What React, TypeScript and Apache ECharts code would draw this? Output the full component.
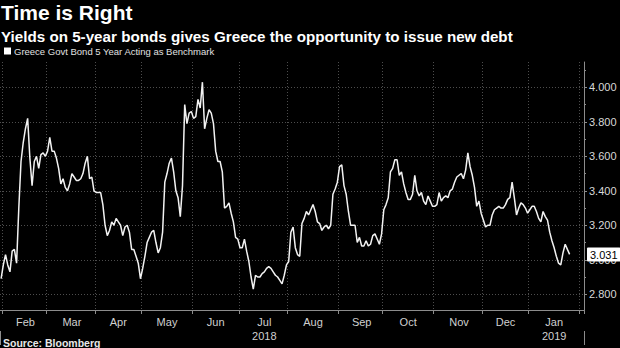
import React, { useEffect, useRef } from "react";
import * as echarts from "echarts";

const titleText = "Time is Right";
const subtitleText = "Yields on 5-year bonds gives Greece the opportunity to issue new debt";
const seriesName = "Greece Govt Bond 5 Year Acting as Benchmark";
const sourceText = "Source: Bloomberg";

// trading days (weekdays) on the axis
const axisStart = "2018-01-31";
const axisEnd = "2019-02-04";

// daily yields (%), one per weekday from axisStart
const yieldsFebApr = [
  2.89, 2.97, 3.03, 2.97, 2.93, 3.05, 3.06, 2.98, 3.30, 3.57, 3.68, 3.76, 3.82, 3.59, 3.43,
  3.57, 3.60, 3.53, 3.61, 3.62, 3.60, 3.63, 3.71, 3.63, 3.63, 3.59, 3.53, 3.44, 3.47, 3.42,
  3.40, 3.44, 3.50, 3.48, 3.46, 3.46, 3.47, 3.50, 3.56, 3.60, 3.47, 3.48, 3.40, 3.39, 3.39,
];
const yieldsAprMay = [
  3.39, 3.32, 3.20, 3.14, 3.17, 3.22, 3.20, 3.24, 3.22, 3.20, 3.14, 3.19, 3.20, 3.16, 3.06,
  3.06, 3.02, 2.98, 2.89, 2.95, 3.02, 3.10, 3.13, 3.16, 3.17, 3.10, 3.04, 3.07, 3.16, 3.45,
  3.50, 3.56, 3.59, 3.51, 3.40, 3.36, 3.25, 3.43, 3.90, 3.79, 3.85, 3.86, 3.82,
];
const yieldsJunJul = [
  3.83, 3.93, 3.88, 4.03, 3.76, 3.82, 3.87, 3.85, 3.79, 3.63, 3.57, 3.57, 3.51, 3.30, 3.31,
  3.33, 3.27, 3.22, 3.13, 3.12, 3.07, 3.07, 3.12, 3.05, 2.99, 2.90, 2.83, 2.91, 2.90, 2.90,
  2.92, 2.93, 2.95, 2.96, 2.95, 2.93, 2.91, 2.90, 2.88, 2.86, 2.91, 2.97, 2.99,
];
const yieldsAugSep = [
  3.16, 3.19, 3.07, 3.03, 3.02, 3.21, 3.24, 3.28, 3.26, 3.29, 3.32, 3.28, 3.22, 3.21, 3.17,
  3.19, 3.20, 3.18, 3.20, 3.38, 3.41, 3.45, 3.54, 3.55, 3.43, 3.38, 3.28, 3.20, 3.20, 3.20,
  3.10, 3.13, 3.08, 3.08, 3.11, 3.08, 3.09, 3.14, 3.15, 3.12, 3.09, 3.15, 3.29,
];
const yieldsOctNov = [
  3.32, 3.36, 3.51, 3.53, 3.58, 3.58, 3.49, 3.51, 3.44, 3.39, 3.35, 3.35, 3.38, 3.49, 3.40,
  3.37, 3.39, 3.34, 3.32, 3.37, 3.34, 3.31, 3.31, 3.32, 3.39, 3.34, 3.36, 3.37, 3.36, 3.40,
  3.41, 3.45, 3.48, 3.49, 3.50, 3.47, 3.52, 3.62, 3.54, 3.49, 3.42, 3.31, 3.34,
];
const yieldsDecJan = [
  3.27, 3.23, 3.19, 3.20, 3.20, 3.26, 3.29, 3.30, 3.31, 3.30, 3.30, 3.32, 3.35, 3.36, 3.45,
  3.36, 3.26, 3.30, 3.33, 3.32, 3.30, 3.27, 3.29, 3.31, 3.31, 3.28, 3.24, 3.22, 3.28, 3.25,
  3.23, 3.16, 3.11, 3.07, 3.02, 2.98, 2.97, 3.04, 3.09, 3.06, 3.031,
];
const yields = [
  ...yieldsFebApr, ...yieldsAprMay, ...yieldsJunJul,
  ...yieldsAugSep, ...yieldsOctNov, ...yieldsDecJan,
];

const monthNames = ["Jan", "Feb", "Mar", "Apr", "May", "Jun", "Jul", "Aug", "Sep", "Oct", "Nov", "Dec"];
const yearUnderMonth: Record<string, string> = { "2018-07": "2018", "2019-01": "2019" };
const yTicks = [2.8, 3.0, 3.2, 3.4, 3.6, 3.8, 4.0];
const yMinorTicks = [2.9, 3.1, 3.3, 3.5, 3.7, 3.9, 4.1];
const yMin = 2.7086;
const yMax = 4.147;

const FONT = "'Liberation Sans', Arial, sans-serif";

function weekdays(from: string, to: string): string[] {
  const out: string[] = [];
  const d = new Date(from + "T00:00:00Z");
  const end = new Date(to + "T00:00:00Z");
  while (d <= end) {
    const wd = d.getUTCDay();
    if (wd !== 0 && wd !== 6) out.push(d.toISOString().slice(0, 10));
    d.setUTCDate(d.getUTCDate() + 1);
  }
  return out;
}

export default function App() {
  const ref = useRef<HTMLDivElement>(null);

  useEffect(() => {
    if (!ref.current) return;
    const chart = echarts.init(ref.current, undefined, { renderer: "svg" });

    const dates = weekdays(axisStart, axisEnd);
    const monthStart = new Set<number>();
    const yearStart = new Set<number>();
    const groups: { key: string; first: number; last: number }[] = [];
    dates.forEach((d, i) => {
      const key = d.slice(0, 7);
      if (i > 0 && key !== dates[i - 1].slice(0, 7)) monthStart.add(i);
      if (i > 0 && d.slice(0, 4) !== dates[i - 1].slice(0, 4)) yearStart.add(i);
      const g = groups[groups.length - 1];
      if (!g || g.key !== key) groups.push({ key, first: i, last: i });
      else g.last = i;
    });
    const labelMap = new Map<number, string>();
    groups.slice(1, groups.length - 1).forEach((g) => {
      const idx = Math.ceil((g.first + g.last) / 2);
      const m = monthNames[parseInt(g.key.slice(5, 7), 10) - 1];
      const y = yearUnderMonth[g.key];
      labelMap.set(idx, y ? m + "\n" + y : m);
    });

    const last = yields[yields.length - 1];

    chart.setOption({
      animation: false,
      backgroundColor: "#000000",
      title: [
        {
          text: titleText, left: 1, top: 2, padding: 0,
          textStyle: { color: "#ffffff", fontSize: 21, fontWeight: "bold", fontFamily: FONT },
        },
        {
          text: subtitleText, left: 1, top: 29, padding: 0,
          textStyle: { color: "#ffffff", fontSize: 15.2, fontWeight: "bold", fontFamily: FONT },
        },
        {
          text: sourceText, left: 3, top: 337, padding: 0,
          textStyle: { color: "#e8e8e8", fontSize: 10.5, fontWeight: "bold", fontFamily: FONT },
        },
      ],
      legend: {
        left: 4, top: 46, padding: 0,
        icon: "rect", itemWidth: 7, itemHeight: 7, itemGap: 10,
        textStyle: { color: "#e0e0e0", fontSize: 9.5, fontFamily: FONT, padding: [0, 0, 0, -2] },
        data: [seriesName],
      },
      grid: { left: 0, right: 36, top: 62, bottom: 38, containLabel: false },
      xAxis: [
        {
          type: "category",
          data: dates,
          boundaryGap: true,
          axisLine: { show: true, lineStyle: { color: "#8c8c8c", width: 1 } },
          axisTick: {
            show: true, length: 4,
            interval: (i: number) => monthStart.has(i),
            lineStyle: { color: "#8c8c8c" },
          },
          splitLine: {
            show: true,
            interval: (i: number) => monthStart.has(i),
            lineStyle: { color: "#4d4d4d", type: [1, 2], width: 1 },
          },
          axisLabel: {
            interval: (i: number) => labelMap.has(i),
            formatter: (_v: string, i: number) => labelMap.get(i) ?? "",
            color: "#d0d0d0", fontSize: 11, lineHeight: 14, margin: 5, fontFamily: FONT,
          },
        },
        {
          type: "category",
          data: dates,
          boundaryGap: true,
          position: "bottom",
          offset: 21,
          axisLine: { show: false },
          axisLabel: { show: false },
          splitLine: { show: false },
          axisTick: {
            show: true, length: 14,
            interval: (i: number) => yearStart.has(i),
            lineStyle: { color: "#8c8c8c" },
          },
        },
      ],
      yAxis: [
        {
          type: "value",
          position: "right",
          min: yMin,
          max: yMax,
          axisLine: { show: true, lineStyle: { color: "#8c8c8c", width: 1 } },
          axisTick: { show: true, length: 3, customValues: yTicks, lineStyle: { color: "#8c8c8c" } },
          axisLabel: {
            customValues: yTicks,
            formatter: (v: number) => v.toFixed(3),
            color: "#d8d8d8", fontSize: 11, margin: 5, fontFamily: FONT,
          },
          splitLine: { show: true, lineStyle: { color: "#4d4d4d", type: [1, 2], width: 1 } },
        },
        {
          type: "value",
          position: "right",
          min: yMin,
          max: yMax,
          axisLine: { show: false },
          axisTick: { show: true, length: 2, customValues: yMinorTicks, lineStyle: { color: "#8c8c8c" } },
          axisLabel: { show: false },
          splitLine: { show: false },
        },
      ],
      series: [
        {
          name: seriesName,
          type: "line",
          data: yields,
          clip: false,
          showSymbol: false,
          symbol: "none",
          itemStyle: { color: "#ffffff" },
          lineStyle: { color: "#f2f2f2", width: 1.5 },
          markLine: {
            silent: true,
            symbol: "none",
            lineStyle: { color: "rgba(0,0,0,0)", width: 0, opacity: 1 },
            data: [{ yAxis: last }],
            label: {
              show: true,
              position: "end",
              distance: 3,
              opacity: 1,
              formatter: () => last.toFixed(3),
              backgroundColor: "#ffffff",
              color: "#000000",
              fontSize: 11,
              fontFamily: FONT,
              padding: [2, 3, 1, 3],
              borderRadius: 1,
            },
          },
        },
      ],
    });

    return () => chart.dispose();
  }, []);

  return (
    <div
      ref={ref}
      style={{ position: "absolute", left: 0, top: 0, width: 620, height: 348 }}
    />
  );
}
